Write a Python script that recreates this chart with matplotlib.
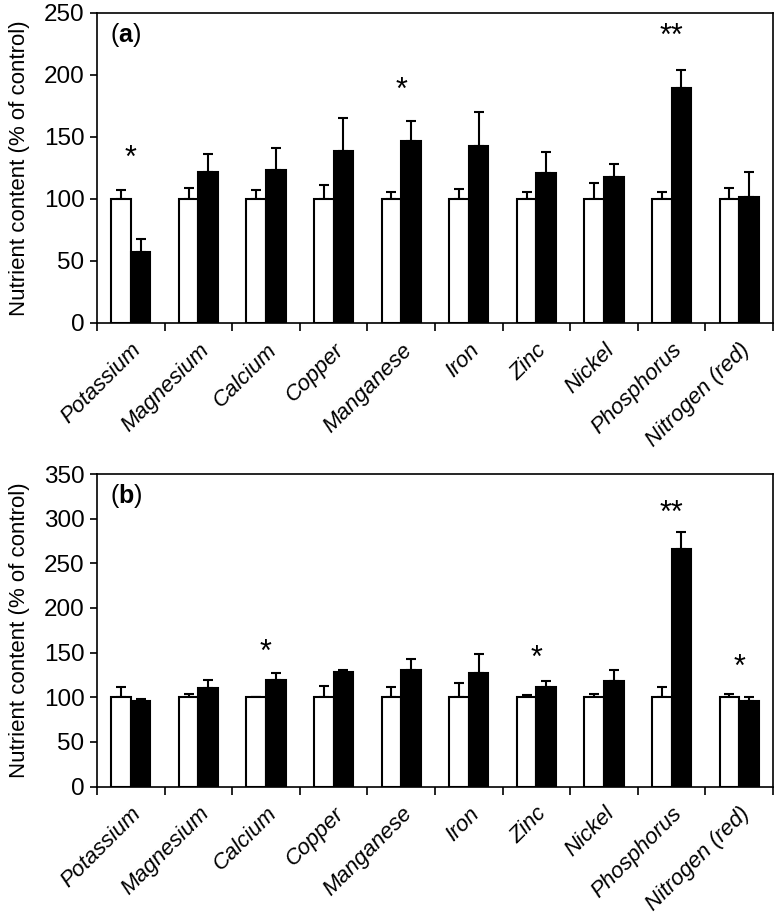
import matplotlib.pyplot as plt
import numpy as np

plt.rcParams['font.family'] = ['Liberation Sans', 'DejaVu Sans']
plt.rcParams['mathtext.fontset'] = 'custom'
plt.rcParams['mathtext.rm'] = 'Liberation Sans'
plt.rcParams['mathtext.bf'] = 'Liberation Sans:bold'

nutrients = ["Potassium", "Magnesium", "Calcium", "Copper", "Manganese",
             "Iron", "Zinc", "Nickel", "Phosphorus", "Nitrogen (red)"]

# panel (a)
a_control = [100, 100, 100, 100, 100, 100, 100, 100, 100, 100]
a_control_err = [7, 8.5, 7.5, 11.5, 5.5, 8, 6, 13, 5.5, 9]
a_treat = [57, 122, 123, 139, 146.5, 143, 121, 118, 189.5, 102]
a_treat_err = [10.5, 14.5, 18, 26, 16, 27, 17, 10.5, 14.5, 20]
a_sig_idx = [0, 4, 8]
a_sig_txt = ["*", "*", "**"]
a_sig_y = [132, 187, 231]

# panel (b)
b_control = [100, 100, 100, 100, 100, 100, 100, 100, 100, 100]
b_control_err = [11, 3.5, 0.5, 13, 11, 15.5, 3, 3.5, 11.5, 3.5]
b_treat = [96, 110.5, 119.5, 128.5, 130, 127.5, 112, 118.5, 266, 96]
b_treat_err = [2.5, 9, 8, 2.5, 12.5, 21, 6, 12.5, 19, 4]
b_sig_idx = [2, 6, 8, 9]
b_sig_txt = ["*", "*", "**", "*"]
b_sig_y = [150, 143.5, 305, 132.5]


def draw_panel(ax, ctrl, ctrl_err, trt, trt_err, ymax, tag, sig_idx, sig_txt, sig_y):
    x = np.arange(len(nutrients))
    w = 0.29
    ax.bar(x - w / 2, ctrl, w, color='white', edgecolor='black', linewidth=1.5, zorder=2)
    ax.bar(x + w / 2, trt, w, color='black', edgecolor='black', linewidth=1.5, zorder=2)
    # only the upper half of each error bar is shown
    ax.errorbar(x - w / 2, ctrl, yerr=[np.zeros(len(x)), ctrl_err], fmt='none',
                ecolor='black', elinewidth=1.5, capsize=3.5, capthick=1.5, zorder=1)
    ax.errorbar(x + w / 2, trt, yerr=[np.zeros(len(x)), trt_err], fmt='none',
                ecolor='black', elinewidth=1.5, capsize=3.5, capthick=1.5, zorder=1)

    for i, t, yy in zip(sig_idx, sig_txt, sig_y):
        ax.text(i, yy, t, ha='center', va='center', fontsize=22)

    ax.set_xlim(-0.5, len(nutrients) - 0.5)
    ax.set_ylim(0, ymax)
    ax.set_yticks(np.arange(0, ymax + 1, 50))
    ax.tick_params(axis='y', direction='out', length=5, width=1.2, labelsize=17.5, pad=4)

    ax.set_xticks(x)
    ax.set_xticklabels(nutrients, rotation=45, ha='right', rotation_mode='anchor',
                       fontstyle='italic', fontsize=16)
    ax.tick_params(axis='x', which='major', length=0, pad=12)
    ax.set_xticks(np.arange(-0.5, len(nutrients)), minor=True)
    ax.tick_params(axis='x', which='minor', direction='out', length=6, width=1.2)

    for s in ax.spines.values():
        s.set_linewidth(1.2)
    ax.set_ylabel("Nutrient content (% of control)", fontsize=16, labelpad=10)
    ax.text(0.02, 0.93, "($\\mathbf{" + tag + "}$)", transform=ax.transAxes,
            fontsize=18, ha='left', va='center')


fig = plt.figure(figsize=(7.82, 9.15), dpi=100)
ax1 = fig.add_axes([0.124, 0.647, 0.8645, 0.3388])
ax2 = fig.add_axes([0.124, 0.1404, 0.8645, 0.3415])

draw_panel(ax1, a_control, a_control_err, a_treat, a_treat_err, 250, "a",
           a_sig_idx, a_sig_txt, a_sig_y)
draw_panel(ax2, b_control, b_control_err, b_treat, b_treat_err, 350, "b",
           b_sig_idx, b_sig_txt, b_sig_y)

fig.savefig("out.png", dpi=100)
